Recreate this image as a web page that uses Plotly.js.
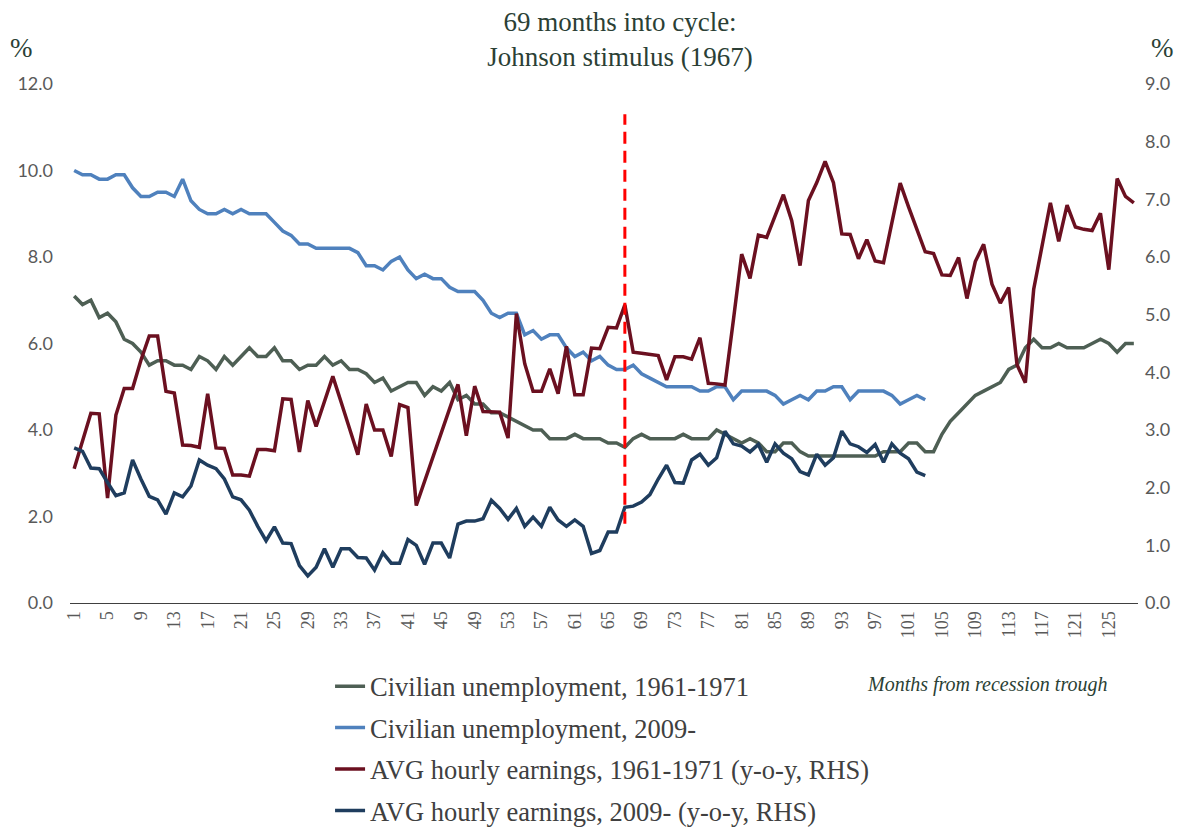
<!DOCTYPE html>
<html>
<head>
<meta charset="utf-8">
<script src="https://cdn.plot.ly/plotly-3.0.1.min.js"></script>
<style>
  html, body { margin: 0; padding: 0; background: #ffffff; }
  #chart { width: 1189px; height: 828px; }
</style>
</head>
<body>
<div id="chart"></div>
<script>
// Months from recession trough (category axis)
const months = Array.from({length: 128}, (_, i) => i + 1);
const tickMonths = [1,5,9,13,17,21,25,29,33,37,41,45,49,53,57,61,65,69,73,77,81,85,89,93,97,101,105,109,113,117,121,125];
const markerMonth = 67;

// Civilian unemployment, 1961-1971 (%, LHS)
const unemp6171 = [7.1,6.9,7.0,6.6,6.7,6.5,6.1,6.0,
  5.8,5.5,5.6,5.6,5.5,5.5,5.4,5.7,5.6,5.4,5.7,5.5,
  5.7,5.9,5.7,5.7,5.9,5.6,5.6,5.4,5.5,5.5,5.7,5.5,
  5.6,5.4,5.4,5.3,5.1,5.2,4.9,5.0,5.1,5.1,4.8,5.0,
  4.9,5.1,4.7,4.8,4.6,4.6,4.4,4.4,4.3,4.2,4.1,4.0,
  4.0,3.8,3.8,3.8,3.9,3.8,3.8,3.8,3.7,3.7,3.6,3.8,
  3.9,3.8,3.8,3.8,3.8,3.9,3.8,3.8,3.8,4.0,3.9,3.8,
  3.7,3.8,3.7,3.5,3.5,3.7,3.7,3.5,3.4,3.4,3.4,3.4,
  3.4,3.4,3.4,3.4,3.4,3.5,3.5,3.5,3.7,3.7,3.5,3.5,
  3.9,4.2,4.4,4.6,4.8,4.9,5.0,5.1,5.4,5.5,5.9,6.1,
  5.9,5.9,6.0,5.9,5.9,5.9,6.0,6.1,6.0,5.8,6.0,6.0];

// Civilian unemployment, 2009- (%, LHS)
const unemp09 = [10.0,9.9,9.9,
  9.8,9.8,9.9,9.9,9.6,9.4,9.4,9.5,9.5,9.4,9.8,9.3,
  9.1,9.0,9.0,9.1,9.0,9.1,9.0,9.0,9.0,8.8,8.6,8.5,
  8.3,8.3,8.2,8.2,8.2,8.2,8.2,8.1,7.8,7.8,7.7,7.9,
  8.0,7.7,7.5,7.6,7.5,7.5,7.3,7.2,7.2,7.2,7.0,6.7,
  6.6,6.7,6.7,6.2,6.3,6.1,6.2,6.2,5.9,5.7,5.8,5.6,
  5.7,5.5,5.4,5.4,5.5,5.3,5.2,5.1,5.0,5.0,5.0,5.0,
  4.9,4.9,5.0,5.0,4.7,4.9,4.9,4.9,4.9,4.8,4.6,4.7,4.8,4.7,
  4.9,4.9,5.0,5.0,4.7,4.9,4.9,4.9,4.9,4.8,4.6,4.7,4.8,4.7];

// AVG hourly earnings, 1961-1971 (y-o-y %, RHS)
const ahe6171 = [2.33,2.80,3.29,3.28,1.82,3.26,3.72,3.72,4.21,4.63,
  4.63,3.67,3.64,2.74,2.73,2.70,3.63,2.69,2.68,2.22,
  2.22,2.20,2.66,2.66,2.64,3.54,3.53,2.62,3.51,3.06,
  3.50,3.93,3.48,3.02,2.57,3.45,3.00,3.00,2.54,3.44,
  3.39,1.69,2.11,2.53,2.95,3.37,3.79,2.90,3.76,3.32,
  3.31,3.31,2.86,5.02,4.15,3.67,3.67,4.06,3.63,4.45,
  3.61,3.61,4.42,4.41,4.78,4.77,5.17,4.35,4.33,4.31,
  4.29,3.87,4.27,4.27,4.23,4.60,3.81,3.80,3.78,4.90,
  6.05,5.63,6.38,6.34,6.72,7.08,6.63,5.85,6.98,7.29,
  7.66,7.29,6.40,6.39,5.97,6.30,5.93,5.90,6.59,7.28,
  6.87,6.48,6.09,6.06,5.69,5.68,5.99,5.28,5.92,6.22,
  5.53,5.20,5.47,4.13,3.82,5.44,6.21,6.94,6.27,6.90,
  6.52,6.48,6.46,6.76,5.78,7.36,7.05,6.94];

// AVG hourly earnings, 2009- (y-o-y %, RHS)
const ahe09 = [2.69,2.63,2.34,2.33,2.09,1.86,1.91,2.48,2.15,1.85,
  1.79,1.54,1.91,1.84,2.03,2.48,2.39,2.33,2.15,1.84,
  1.79,1.61,1.33,1.08,1.32,1.04,1.03,0.65,0.47,0.62,
  0.94,0.62,0.94,0.94,0.79,0.78,0.57,0.87,0.69,0.69,
  1.10,1.00,0.67,1.04,1.04,0.78,1.37,1.42,1.42,1.46,
  1.78,1.64,1.45,1.64,1.33,1.49,1.33,1.66,1.44,1.33,
  1.44,1.33,0.86,0.91,1.23,1.23,1.66,1.68,1.75,1.88,
  2.15,2.39,2.09,2.08,2.48,2.58,2.39,2.52,2.98,2.76,
  2.72,2.62,2.75,2.44,2.76,2.60,2.50,2.28,2.22,2.58,
  2.39,2.52,2.98,2.76,2.71,2.61,2.75,2.44,2.76,2.60,
  2.50,2.27,2.21];

const seriesNames = [
  'Civilian unemployment, 1961-1971',
  'Civilian unemployment, 2009-',
  'AVG hourly earnings, 1961-1971 (y-o-y, RHS)',
  'AVG hourly earnings, 2009- (y-o-y, RHS)'
];
const seriesColors = ['#4E5F54', '#4F81BD', '#6B1020', '#1F3D5E'];

const traces = [
  {x: months, y: unemp6171, yaxis: 'y'},
  {x: months.slice(0, unemp09.length), y: unemp09, yaxis: 'y'},
  {x: months, y: ahe6171, yaxis: 'y2'},
  {x: months.slice(0, ahe09.length), y: ahe09, yaxis: 'y2'}
].map((t, i) => Object.assign(t, {
  type: 'scatter', mode: 'lines', name: seriesNames[i], legendgroup: 'g' + i,
  line: {color: seriesColors[i], width: 3.5}, hoverinfo: 'x+y+name'
}));

const serif = 'Liberation Serif, Times New Roman, serif';
const sans = 'Lato, Open Sans, sans-serif';
const titleColor = '#2B3F35';

const layout = {
  width: 1189, height: 828,
  margin: {l: 70, r: 51, t: 84, b: 225, autoexpand: false},
  paper_bgcolor: '#ffffff', plot_bgcolor: '#ffffff',
  showlegend: true,
  title: {
    text: '69 months into cycle:<br>Johnson stimulus (1967)',
    font: {family: serif, size: 27, color: titleColor},
    xref: 'paper', x: 0.515, xanchor: 'center',
    yref: 'container', y: 0.963, yanchor: 'middle'
  },
  xaxis: {
    range: [0.5, 128.5], tickmode: 'array', tickvals: tickMonths, ticktext: tickMonths.map(String),
    tickangle: -90, showline: true, linecolor: '#404040', linewidth: 1,
    showgrid: false, zeroline: false, ticks: '', automargin: false,
    tickfont: {family: serif, size: 18, color: '#595959'}
  },
  yaxis: {
    range: [0, 12], dtick: 2, tick0: 0, tickformat: '.1f',
    showgrid: false, zeroline: false, showline: false, ticks: '', automargin: false,
    ticklabelstandoff: 16,
    tickfont: {family: sans, size: 18, color: '#595959'}
  },
  yaxis2: {
    overlaying: 'y', side: 'right',
    range: [0, 9], dtick: 1, tick0: 0, tickformat: '.1f',
    showgrid: false, zeroline: false, showline: false, ticks: '', automargin: false,
    ticklabelstandoff: 6,
    tickfont: {family: sans, size: 18, color: '#595959'}
  },
  legend: {
    orientation: 'v', x: 0.2435, xanchor: 'left', y: -0.1145, yanchor: 'top',
    font: {family: serif, size: 26.5, color: '#404040'},
    bgcolor: 'rgba(0,0,0,0)', tracegroupgap: 4
  },
  shapes: [{
    type: 'line', xref: 'x', yref: 'paper',
    x0: markerMonth, x1: markerMonth, y0: 0.1525, y1: 0.9415,
    line: {color: '#FF0000', width: 3, dash: '12px,7px'}
  }],
  annotations: [
    {text: '%', xref: 'paper', yref: 'paper', x: -0.045, y: 1.069,
     xanchor: 'center', yanchor: 'middle', showarrow: false,
     font: {family: serif, size: 27, color: titleColor}},
    {text: '%', xref: 'paper', yref: 'paper', x: 1.0234, y: 1.069,
     xanchor: 'center', yanchor: 'middle', showarrow: false,
     font: {family: serif, size: 27, color: titleColor}},
    {text: '<i>Months from recession trough</i>', xref: 'paper', yref: 'paper',
     x: 0.8586, y: -0.157, xanchor: 'center', yanchor: 'middle', showarrow: false,
     font: {family: serif, size: 20, color: titleColor}}
  ]
};

Plotly.newPlot('chart', traces, layout, {displayModeBar: false, staticPlot: true});
</script>
</body>
</html>
